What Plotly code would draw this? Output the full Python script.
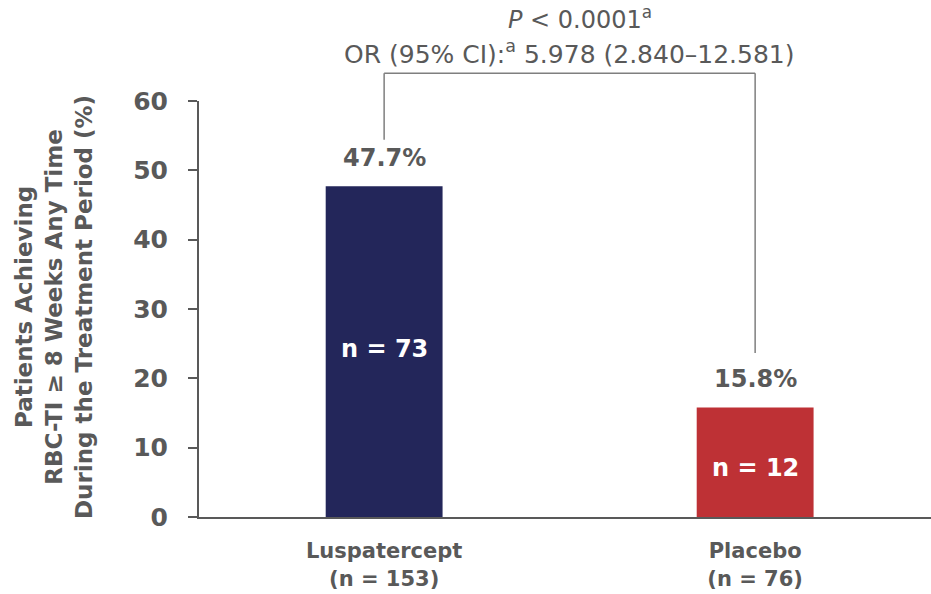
import plotly.graph_objects as go

# Data
groups = ["Luspatercept", "Placebo"]
group_n = [153, 76]
pct_achieving = [47.7, 15.8]
responders = [73, 12]
bar_colors = ["#23265A", "#BE3135"]
y_ticks = [0, 10, 20, 30, 40, 50, 60]

p_text = "<i>P</i> < 0.0001<sup>a</sup>"
or_text = "OR (95% CI):<sup>a</sup> 5.978 (2.840–12.581)"

GRAY = "#595959"
FONT = "DejaVu Sans, Liberation Sans, Arial, sans-serif"
Y_RANGE = [0, 60]


def y_frac(v):
    """Convert a y value to the paper fraction of the plot area."""
    return (v - Y_RANGE[0]) / (Y_RANGE[1] - Y_RANGE[0])


x_pos = list(range(len(groups)))
tick_text = [f"<b>{g}<br>(n = {n})</b>" for g, n in zip(groups, group_n)]

fig = go.Figure()
fig.add_trace(go.Bar(
    x=x_pos,
    y=pct_achieving,
    width=0.315,
    marker=dict(color=bar_colors, line=dict(width=0)),
    hoverinfo="skip",
))

# percentage labels above the bars
for xi, v in zip(x_pos, pct_achieving):
    fig.add_annotation(x=xi, y=v, xref="x", yref="y", text=f"<b>{v}%</b>",
                       showarrow=False, yanchor="bottom", yshift=12,
                       font=dict(family=FONT, size=24, color=GRAY))

# responder counts inside the bars
n_label_y = [24.3, 7.0]
for xi, n, ly in zip(x_pos, responders, n_label_y):
    fig.add_annotation(x=xi, y=ly, xref="x", yref="y", text=f"<b>n = {n}</b>",
                       showarrow=False, yanchor="middle",
                       font=dict(family=FONT, size=24, color="white"))

# comparison bracket
bracket_top = 64.0
bracket_gap = [6.7, 7.85]
line_style = dict(color="#7F7F7F", width=1.5)
fig.add_shape(type="line", xref="x", yref="paper", x0=x_pos[0], x1=x_pos[1],
              y0=y_frac(bracket_top), y1=y_frac(bracket_top), line=line_style)
for xi, v, g in zip(x_pos, pct_achieving, bracket_gap):
    fig.add_shape(type="line", xref="x", yref="paper", x0=xi, x1=xi,
                  y0=y_frac(v + g), y1=y_frac(bracket_top), line=line_style)

mid_x = (x_pos[0] + x_pos[1]) / 2
fig.add_annotation(x=mid_x, y=y_frac(bracket_top), xref="x", yref="paper",
                   text=or_text, showarrow=False, yanchor="bottom", yshift=2,
                   font=dict(family=FONT, size=25, color=GRAY))
fig.add_annotation(x=mid_x, y=y_frac(bracket_top), xref="x", yref="paper",
                   text=p_text, showarrow=False, yanchor="bottom", yshift=37,
                   xshift=10, font=dict(family=FONT, size=24, color=GRAY))

# y-axis title
fig.add_annotation(
    x=-0.198, y=0.505, xref="paper", yref="paper",
    text="<b>Patients Achieving<br>RBC-TI ≥ 8 Weeks Any Time<br>During the Treatment Period (%)</b>",
    textangle=-90, showarrow=False, xanchor="center", yanchor="middle",
    font=dict(family=FONT, size=23, color=GRAY),
)

fig.update_layout(
    width=931, height=594,
    margin=dict(l=199, r=0, t=101, b=77),
    plot_bgcolor="white", paper_bgcolor="white",
    showlegend=False,
    font=dict(family=FONT, color=GRAY),
    xaxis=dict(
        range=[-0.499, 1.474],
        tickmode="array", tickvals=x_pos, ticktext=tick_text,
        showline=True, linecolor=GRAY, linewidth=2,
        ticks="", showgrid=False, zeroline=False,
        tickfont=dict(family=FONT, size=21, color=GRAY),
        ticklabelstandoff=14,
    ),
    yaxis=dict(
        range=Y_RANGE,
        tickmode="array", tickvals=y_ticks,
        ticktext=[f"<b>{t}</b>" for t in y_ticks],
        showline=True, linecolor=GRAY, linewidth=2,
        ticks="outside", ticklen=9, tickwidth=2, tickcolor=GRAY,
        showgrid=False, zeroline=False,
        tickfont=dict(family=FONT, size=25, color=GRAY),
        ticklabelstandoff=15,
    ),
)

fig.write_html("out.html")
